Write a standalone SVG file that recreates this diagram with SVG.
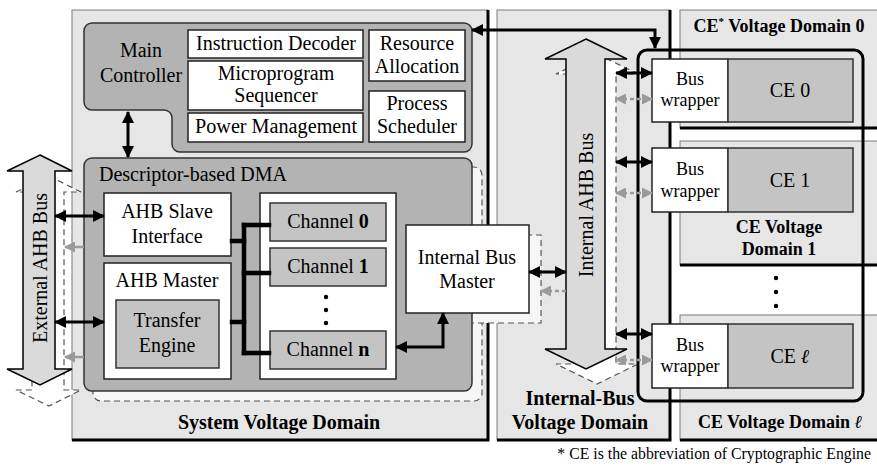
<svg xmlns="http://www.w3.org/2000/svg" width="877" height="466" viewBox="0 0 877 466">
<defs>
<style>
text{font-family:"Liberation Serif","Times New Roman","DejaVu Serif",serif;font-size:20px;fill:#000}
.b{font-weight:bold}
.c{text-anchor:middle}
.s18{font-size:18px}
.note{font-size:15.8px;text-anchor:end}
.dom{fill:#e6e6e6;stroke:#7a7a7a;stroke-width:1}
.edge{fill:none;stroke:#000;stroke-width:3}
.blk{fill:#b3b3b3;stroke:#333;stroke-width:1.5}
.wbox{fill:#fff;stroke:#222;stroke-width:1.5}
.gbox{fill:#c4c4c4;stroke:#333;stroke-width:1.5}
.shadow{fill:#fff;stroke:#555;stroke-width:1.2;stroke-dasharray:6 4}
.shadowl{fill:#f6f6f6;stroke:#555;stroke-width:1.2;stroke-dasharray:6 4}
.bus{fill:#dadada;stroke:#000;stroke-width:1.5}
.dbl{fill:none;stroke:#000;stroke-width:3;marker-start:url(#ah);marker-end:url(#ah)}
.gdbl{fill:none;stroke:#9a9a9a;stroke-width:2.5;stroke-dasharray:4 3;marker-start:url(#gh);marker-end:url(#gh)}
.gsgl{fill:none;stroke:#9a9a9a;stroke-width:2.5;marker-end:url(#gh)}
.gsgld{fill:none;stroke:#9a9a9a;stroke-width:2.5;stroke-dasharray:4 3;marker-end:url(#gh)}
.busln{fill:none;stroke:#000;stroke-width:4.5;stroke-linecap:square}
</style>
<marker id="ah" markerUnits="userSpaceOnUse" viewBox="0 0 12 12" markerWidth="12" markerHeight="12" refX="11" refY="6" orient="auto-start-reverse"><path d="M0,0 L12,6 L0,12 Z" fill="#000"/></marker>
<marker id="gh" markerUnits="userSpaceOnUse" viewBox="0 0 11 11" markerWidth="11" markerHeight="11" refX="10" refY="5.5" orient="auto-start-reverse"><path d="M0,0 L11,5.5 L0,11 Z" fill="#9a9a9a"/></marker>
</defs>

<!-- voltage domains -->
<g id="system-domain">
<rect class="dom" x="72" y="10" width="416" height="430"/>
<polyline class="edge" points="488,10 488,440 72,440"/>
<text class="b c" x="279" y="429">System Voltage Domain</text>
</g>
<g id="internal-bus-domain">
<rect class="dom" x="497" y="10" width="173" height="430"/>
<polyline class="edge" points="670,10 670,440 497,440"/>
<text class="b c" x="580" y="405">Internal-Bus</text>
<text class="b c" x="580" y="429">Voltage Domain</text>
</g>
<g id="ce-domain-0">
<rect class="dom" x="680" y="10" width="220" height="118"/>
<line class="edge" x1="680" y1="128" x2="877" y2="128"/>
<text class="b c s18" x="779" y="32">CE<tspan dy="-7" style="font-size:11px">*</tspan><tspan dy="7"> Voltage Domain 0</tspan></text>
</g>
<g id="ce-domain-1">
<rect class="dom" x="680" y="141" width="220" height="124"/>
<line class="edge" x1="680" y1="265" x2="877" y2="265"/>
<text class="b c s18" x="779" y="233">CE Voltage</text>
<text class="b c s18" x="779" y="255">Domain 1</text>
</g>
<g id="ce-domain-l">
<rect class="dom" x="680" y="315" width="220" height="125"/>
<line class="edge" x1="680" y1="440" x2="877" y2="440"/>
<text class="b c s18" x="780" y="428">CE Voltage Domain <tspan style="font-style:italic">ℓ</tspan></text>
</g>

<!-- external AHB bus -->
<g id="external-ahb-bus">
<polygon class="shadow" points="49,176 81,192 64,192 64,390 81,390 49,406 16,390 32,390 32,192 16,192"/>
<polygon class="bus" points="40,155 72,171 55,171 55,369 72,369 40,385 7,369 23,369 23,171 7,171"/>
<text class="c" transform="translate(47,268) rotate(-90)">External AHB Bus</text>
</g>

<!-- main controller -->
<g id="main-controller">
<path class="blk" d="M92,23 H464 A8,8 0 0 1 472,31 V144 A8,8 0 0 1 464,152 H180 A8,8 0 0 1 172,144 V118 A8,8 0 0 0 164,110 H92 A8,8 0 0 1 84,102 V31 A8,8 0 0 1 92,23 Z"/>
<text class="c" x="141" y="57">Main</text>
<text class="c" x="141" y="82">Controller</text>
</g>
<g id="instruction-decoder">
<rect class="wbox" x="188" y="30" width="175" height="28"/>
<text class="c" x="276" y="50" textLength="160" lengthAdjust="spacingAndGlyphs">Instruction Decoder</text>
</g>
<g id="microprogram-sequencer">
<rect class="wbox" x="188" y="61" width="175" height="49"/>
<text class="c" x="276" y="80">Microprogram</text>
<text class="c" x="276" y="102">Sequencer</text>
</g>
<g id="power-management">
<rect class="wbox" x="188" y="113" width="175" height="29"/>
<text class="c" x="276" y="133" textLength="162" lengthAdjust="spacingAndGlyphs">Power Management</text>
</g>
<g id="resource-allocation">
<rect class="wbox" x="369" y="30" width="96" height="51"/>
<text class="c" x="417" y="50">Resource</text>
<text class="c" x="417" y="73">Allocation</text>
</g>
<g id="process-scheduler">
<rect class="wbox" x="369" y="91" width="96" height="51"/>
<text class="c" x="417" y="110">Process</text>
<text class="c" x="417" y="133">Scheduler</text>
</g>

<!-- DMA -->
<g id="dma">
<rect class="shadowl" x="93" y="167" width="389" height="234" rx="8"/>
<rect class="shadowl" x="416" y="235" width="125" height="88"/>
<rect class="blk" x="84" y="158" width="388" height="233" rx="8"/>
<text x="99" y="181">Descriptor-based DMA</text>
</g>
<g id="ahb-slave-interface">
<rect class="wbox" x="104" y="193" width="127" height="63"/>
<text class="c" x="167" y="218">AHB Slave</text>
<text class="c" x="167" y="243">Interface</text>
</g>
<g id="ahb-master">
<rect class="wbox" x="104" y="263" width="127" height="116"/>
<text class="c" x="167" y="287">AHB Master</text>
</g>
<g id="transfer-engine">
<rect class="gbox" x="116" y="300" width="103" height="68"/>
<text class="c" x="167" y="327">Transfer</text>
<text class="c" x="167" y="352">Engine</text>
</g>
<g id="channels">
<rect class="wbox" x="260" y="193" width="136" height="186"/>
<circle cx="326" cy="297" r="2.2"/>
<circle cx="326" cy="310" r="2.2"/>
<circle cx="326" cy="323" r="2.2"/>
</g>
<g id="channel-0">
<rect class="gbox" x="270" y="203" width="116" height="38"/>
<text class="c" x="328" y="228">Channel <tspan class="b">0</tspan></text>
</g>
<g id="channel-1">
<rect class="gbox" x="270" y="248" width="116" height="38"/>
<text class="c" x="328" y="273">Channel <tspan class="b">1</tspan></text>
</g>
<g id="channel-n">
<rect class="gbox" x="270" y="331" width="116" height="38"/>
<text class="c" x="328" y="356">Channel <tspan class="b">n</tspan></text>
</g>
<g id="internal-bus-master">
<rect class="wbox" x="406" y="225" width="123" height="88"/>
<text class="c" x="467" y="264">Internal Bus</text>
<text class="c" x="467" y="288">Master</text>
</g>

<!-- internal AHB bus -->
<g id="internal-ahb-bus">
<polygon class="shadow" points="597,54 638,74 616,74 616,364 638,364 597,384 556,364 577,364 577,74 556,74"/>
<polygon class="bus" points="586,39 627,59 605,59 605,349 627,349 586,369 545,349 566,349 566,59 545,59"/>
<text class="c" transform="translate(593,205) rotate(-90)">Internal AHB Bus</text>
</g>

<!-- CE cluster -->
<g id="ce-cluster">
<rect x="638" y="50" width="225" height="351" rx="9" fill="none" stroke="#000" stroke-width="3"/>
<circle cx="776" cy="278" r="2.2"/>
<circle cx="776" cy="292" r="2.2"/>
<circle cx="776" cy="306" r="2.2"/>
</g>
<g id="bus-wrapper-0">
<rect class="wbox" x="652" y="59" width="76" height="63"/>
<text class="c s18" x="690" y="85">Bus</text>
<text class="c s18" x="690" y="106">wrapper</text>
</g>
<g id="ce-0">
<rect class="gbox" x="728" y="59" width="125" height="63"/>
<text class="c" x="790" y="97">CE 0</text>
</g>
<g id="bus-wrapper-1">
<rect class="wbox" x="652" y="148" width="76" height="64"/>
<text class="c s18" x="690" y="175">Bus</text>
<text class="c s18" x="690" y="197">wrapper</text>
</g>
<g id="ce-1">
<rect class="gbox" x="728" y="148" width="125" height="64"/>
<text class="c" x="790" y="187">CE 1</text>
</g>
<g id="bus-wrapper-l">
<rect class="wbox" x="652" y="324" width="76" height="64"/>
<text class="c s18" x="690" y="351">Bus</text>
<text class="c s18" x="690" y="372">wrapper</text>
</g>
<g id="ce-l">
<rect class="gbox" x="728" y="324" width="125" height="64"/>
<text class="c" x="790" y="363">CE <tspan class="b" style="font-style:italic">ℓ</tspan></text>
</g>

<!-- connectors -->
<g id="connectors">
<path class="dbl" d="M472,30 H655 V48"/>
<line class="dbl" x1="128" y1="112" x2="128" y2="157"/>
<line class="dbl" x1="55" y1="216" x2="104" y2="216"/>
<line class="dbl" x1="55" y1="322" x2="104" y2="322"/>
<line class="gsgl" x1="84" y1="247" x2="65" y2="247"/>
<line class="gsgl" x1="84" y1="357" x2="65" y2="357"/>
<path class="busln" d="M244,225 V353"/>
<path class="busln" d="M232,241 H244"/>
<path class="busln" d="M232,322 H244"/>
<path class="busln" d="M244,225 H269"/>
<path class="busln" d="M244,273 H269"/>
<path class="busln" d="M244,353 H269"/>
<path class="dbl" d="M396,347 H443 V313"/>
<line class="dbl" x1="529" y1="272" x2="566" y2="272"/>
<line class="gsgld" x1="566" y1="291" x2="541" y2="291"/>
<line class="dbl" x1="616" y1="73" x2="652" y2="73"/>
<line class="gdbl" x1="616" y1="99" x2="652" y2="99"/>
<line class="dbl" x1="616" y1="162" x2="652" y2="162"/>
<line class="gdbl" x1="616" y1="193" x2="652" y2="193"/>
<line class="dbl" x1="616" y1="334" x2="652" y2="334"/>
<line class="gdbl" x1="616" y1="360" x2="652" y2="360"/>
</g>

<text class="note" x="871" y="459">* CE is the abbreviation of Cryptographic Engine</text>
</svg>
